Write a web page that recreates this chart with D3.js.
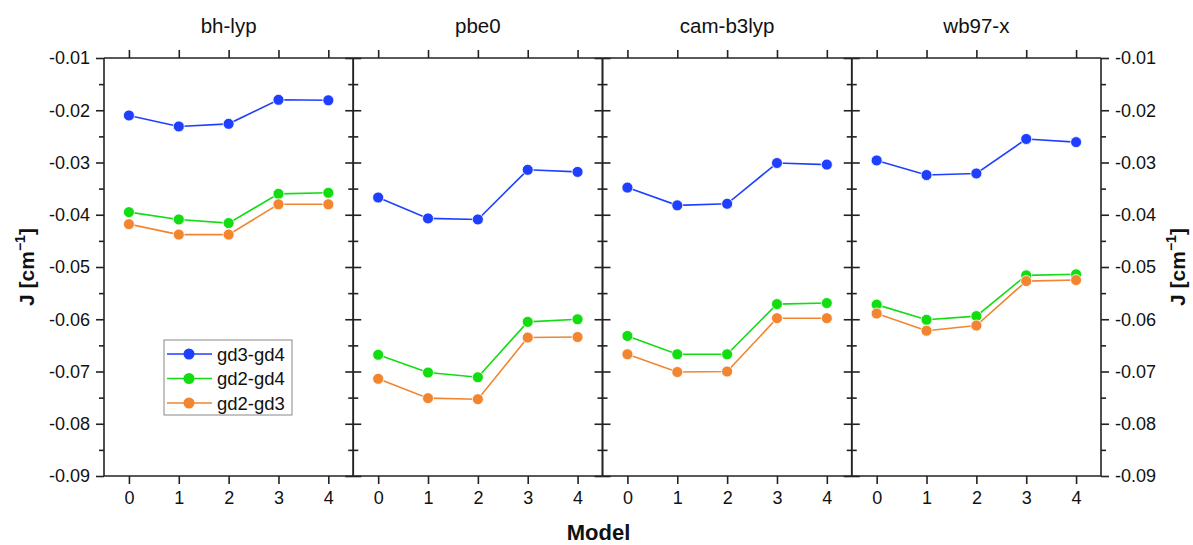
<!DOCTYPE html>
<html>
<head>
<meta charset="utf-8">
<script src="https://cdn.jsdelivr.net/npm/d3@7"></script>
<style>
  body { margin: 0; background: #fff; }
  svg { display: block; font-family: "Liberation Sans", Arial, sans-serif; }
  .axis path, .axis line { stroke: #222; stroke-width: 1.6; }
  .axis text { font-family: "Liberation Sans", Arial, sans-serif; font-size: 18px; fill: #111; }
</style>
</head>
<body>
<div id="chart-area"></div>
<script>
// panels (functionals) and the model index on the x axis
var panels = ["bh-lyp", "pbe0", "cam-b3lyp", "wb97-x"];
var models = [0, 1, 2, 3, 4];
var seriesNames = ["gd3-gd4", "gd2-gd4", "gd2-gd3"];
var seriesColors = ["#1f3fff", "#11dd11", "#f2852f"];
var yTicks = [-0.01, -0.02, -0.03, -0.04, -0.05, -0.06, -0.07, -0.08, -0.09];

// J values [cm^-1], one array per panel and pair
var gd3gd4 = [
  [-0.0210, -0.0231, -0.0226, -0.0180, -0.0181],
  [-0.0367, -0.0407, -0.0409, -0.0314, -0.0318],
  [-0.0348, -0.0382, -0.0379, -0.0301, -0.0304],
  [-0.0296, -0.0324, -0.0321, -0.0255, -0.0261]
];
var gd2gd4 = [
  [-0.0395, -0.0409, -0.0416, -0.0360, -0.0358],
  [-0.0668, -0.0702, -0.0711, -0.0605, -0.0600],
  [-0.0632, -0.0667, -0.0667, -0.0571, -0.0569],
  [-0.0572, -0.0601, -0.0594, -0.0516, -0.0514]
];
var gd2gd3 = [
  [-0.0418, -0.0438, -0.0438, -0.0380, -0.0380],
  [-0.0714, -0.0751, -0.0753, -0.0635, -0.0634],
  [-0.0667, -0.0701, -0.0700, -0.0598, -0.0598],
  [-0.0589, -0.0622, -0.0612, -0.0527, -0.0525]
];
var allSeries = [gd3gd4, gd2gd4, gd2gd3];

var W = 1193, H = 545;
var margin = {top: 58, left: 104, bottom: 69, right: 92};
var width = W - margin.left - margin.right;
var height = H - margin.top - margin.bottom;
var panelW = width / panels.length;

var svg = d3.select("#chart-area")
  .append("svg")
    .attr("width", W)
    .attr("height", H);

var g = svg.append("g")
  .attr("transform", "translate(" + margin.left + ", " + margin.top + ")");

// Y scale shared by all panels
var y = d3.scaleLinear()
  .domain([-0.09, -0.01])
  .range([height, 0]);

var x = d3.scaleLinear()
  .domain([-0.5, 4.5])
  .range([0, panelW]);

var minorTicks = d3.range(-0.085, -0.01, 0.01);

// plain hyphen minus like the original
var fmtY = function(d) { return d.toFixed(2); };

panels.forEach(function(name, p) {
  var pg = g.append("g")
    .attr("transform", "translate(" + (p * panelW) + ", 0)");

  // panel title
  pg.append("text")
    .attr("x", panelW / 2)
    .attr("y", -25)
    .attr("text-anchor", "middle")
    .attr("font-size", "20.5px")
    .attr("fill", "#111")
    .text(name);

  // bottom axis with labels
  pg.append("g")
    .attr("class", "axis")
    .attr("transform", "translate(0, " + height + ")")
    .call(d3.axisBottom(x).tickValues(models).tickSize(8).tickPadding(7).tickFormat(d3.format("d")))
    .call(function(a) { a.select(".domain").attr("d", "M0,0H" + panelW); });

  // top axis, ticks only
  pg.append("g")
    .attr("class", "axis")
    .call(d3.axisTop(x).tickValues(models).tickSize(8).tickFormat(""))
    .call(function(a) { a.select(".domain").attr("d", "M0,0H" + panelW); });

  // left and right axes
  var leftAxis = d3.axisLeft(y).tickValues(yTicks).tickSize(8).tickPadding(6)
    .tickFormat(p === 0 ? fmtY : "");
  pg.append("g")
    .attr("class", "axis")
    .call(leftAxis)
    .call(function(a) { a.select(".domain").attr("d", "M0,0V" + height); });

  var rightAxis = d3.axisRight(y).tickValues(yTicks).tickSize(8).tickPadding(6)
    .tickFormat(p === panels.length - 1 ? fmtY : "");
  pg.append("g")
    .attr("class", "axis")
    .attr("transform", "translate(" + panelW + ", 0)")
    .call(rightAxis)
    .call(function(a) { a.select(".domain").attr("d", "M0,0V" + height); });

  // minor ticks
  pg.append("g")
    .attr("class", "axis")
    .call(d3.axisLeft(y).tickValues(minorTicks).tickSize(5).tickFormat(""))
    .call(function(a) { a.select(".domain").remove(); });
  pg.append("g")
    .attr("class", "axis")
    .attr("transform", "translate(" + panelW + ", 0)")
    .call(d3.axisRight(y).tickValues(minorTicks).tickSize(5).tickFormat(""))
    .call(function(a) { a.select(".domain").remove(); });

  var line = d3.line()
    .x(function(d, i) { return x(models[i]); })
    .y(function(d) { return y(d); });

  allSeries.forEach(function(s, k) {
    var vals = s[p];
    pg.append("path")
      .attr("d", line(vals))
      .attr("fill", "none")
      .attr("stroke", seriesColors[k])
      .attr("stroke-width", 1.6);

    pg.selectAll("circle.s" + k)
      .data(vals)
      .enter()
      .append("circle")
        .attr("class", "s" + k)
        .attr("cx", function(d, i) { return x(models[i]); })
        .attr("cy", function(d) { return y(d); })
        .attr("r", 5.5)
        .attr("fill", seriesColors[k])
        .attr("stroke", "#fff")
        .attr("stroke-width", 0.8);
  });
});

// legend in first panel
var legend = g.append("g")
  .attr("transform", "translate(60, 282)");
legend.append("rect")
  .attr("width", 128)
  .attr("height", 75)
  .attr("fill", "#fff")
  .attr("stroke", "#888")
  .attr("stroke-width", 1);
seriesNames.forEach(function(n, k) {
  var ly = 14 + k * 24.5;
  legend.append("line")
    .attr("x1", 3).attr("x2", 48)
    .attr("y1", ly).attr("y2", ly)
    .attr("stroke", seriesColors[k])
    .attr("stroke-width", 1.6);
  legend.append("circle")
    .attr("cx", 25).attr("cy", ly).attr("r", 5.5)
    .attr("fill", seriesColors[k]);
  legend.append("text")
    .attr("x", 53).attr("y", ly + 6.5)
    .attr("font-size", "18.5px")
    .attr("fill", "#111")
    .text(n);
});

// X label
svg.append("text")
  .attr("x", margin.left + width / 2 - 4)
  .attr("y", 540)
  .attr("text-anchor", "middle")
  .attr("font-size", "22px")
  .attr("font-weight", "bold")
  .attr("fill", "#111")
  .text("Model");

// Y labels, left and right
function yLabel(xpos) {
  var t = svg.append("text")
    .attr("transform", "translate(" + xpos + ", " + (margin.top + height / 2) + ") rotate(-90)")
    .attr("text-anchor", "middle")
    .attr("font-size", "21px")
    .attr("font-weight", "bold")
    .attr("fill", "#111");
  t.append("tspan").text("J [cm");
  t.append("tspan").attr("dy", -9).attr("font-size", "14px").text("\u22121");
  t.append("tspan").attr("dy", 9).text("]");
}
yLabel(34);
yLabel(1185);
</script>
</body>
</html>
